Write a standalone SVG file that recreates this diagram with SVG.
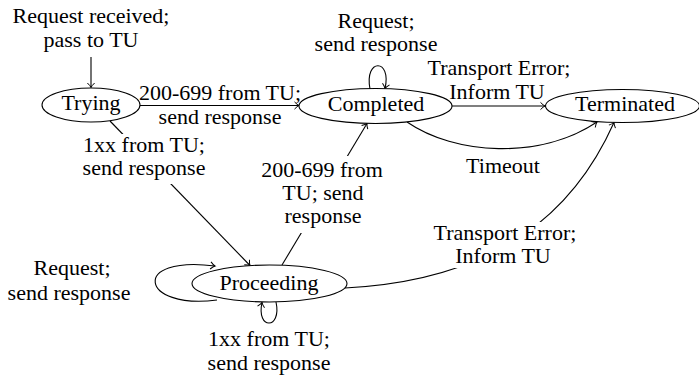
<svg xmlns="http://www.w3.org/2000/svg" width="699" height="380" viewBox="0 0 699 380">
  <style>
    text { font-family: "Liberation Serif", Tinos, "Times New Roman", Times, "DejaVu Serif", "Noto Serif", FreeSerif, serif; font-size: 22px; fill: #000; text-anchor: middle; }
    .state { fill: #fff; stroke: #000; stroke-width: 1.1; }
    .edge { fill: none; stroke: #000; stroke-width: 1.1; marker-end: url(#tip); }
    .lblbg { fill: #fff; stroke: none; }
  </style>
  <defs>
    <marker id="tip" viewBox="-6 -5 8 10" markerWidth="8" markerHeight="10" refX="0" refY="0" orient="auto" markerUnits="userSpaceOnUse">
      <path d="M-4.5,-3.6 Q-1.6,-0.6 0,0 Q-1.6,0.6 -4.5,3.6" fill="none" stroke="#000" stroke-width="1"/>
    </marker>
  </defs>
  <rect width="699" height="380" fill="#fff"/>

  <!-- transitions -->
  <g id="connectors">
    <path class="edge" d="M91,57 L91,87.5"/>
    <path class="edge" d="M140,105.5 L299,105.5"/>
    <path class="edge" d="M452,106 L545,106"/>
    <path class="edge" d="M407,122 C455,155 540,160 597,122"/>
    <path class="edge" d="M370,89 C364,58 392,58 385,88.5"/>
    <path class="edge" d="M110,121 L250,265.5"/>
    <path class="edge" d="M282,265 L367,123.5"/>
    <path class="edge" d="M345,288 C500,280 575,210 614,122.5"/>
    <path class="edge" d="M276,302 C282,330 256,330 262,302.5"/>
    <path class="edge" d="M217,300 C140,310 130,255 215,266"/>

    <!-- edge labels -->
    <text x="91" y="23">Request received;</text>
    <text x="91" y="47">pass to TU</text>

    <text x="220" y="100">200-699 from TU;</text>
    <text x="220" y="124">send response</text>

    <text x="376" y="28">Request;</text>
    <text x="376" y="51">send response</text>

    <text x="499" y="75">Transport Error;</text>
    <text x="497" y="99">Inform TU</text>

    <text x="503" y="173">Timeout</text>

    <rect class="lblbg" x="76" y="134" width="136" height="50"/>
    <text x="144" y="152">1xx from TU;</text>
    <text x="144" y="175">send response</text>

    <rect class="lblbg" x="256" y="156" width="132" height="77"/>
    <text x="322" y="177">200-699 from</text>
    <text x="323" y="200">TU; send</text>
    <text x="323" y="223">response</text>

    <rect class="lblbg" x="424" y="222" width="162" height="46"/>
    <text x="505" y="240">Transport Error;</text>
    <text x="503" y="263">Inform TU</text>

    <text x="72" y="275">Request;</text>
    <text x="69" y="300">send response</text>

    <text x="269" y="346">1xx from TU;</text>
    <text x="269" y="370">send response</text>
  </g>

  <!-- states -->
  <g id="trying">
    <ellipse class="state" cx="91" cy="105" rx="49" ry="17"/>
    <text x="91" y="110">Trying</text>
  </g>
  <g id="completed">
    <ellipse class="state" cx="375.5" cy="106" rx="76.5" ry="17.5"/>
    <text x="376" y="111">Completed</text>
  </g>
  <g id="terminated">
    <ellipse class="state" cx="622.5" cy="106" rx="77" ry="16.5"/>
    <text x="625" y="111">Terminated</text>
  </g>
  <g id="proceeding">
    <ellipse class="state" cx="269.5" cy="283.5" rx="77.5" ry="18.5"/>
    <text x="269" y="290">Proceeding</text>
  </g>
</svg>
